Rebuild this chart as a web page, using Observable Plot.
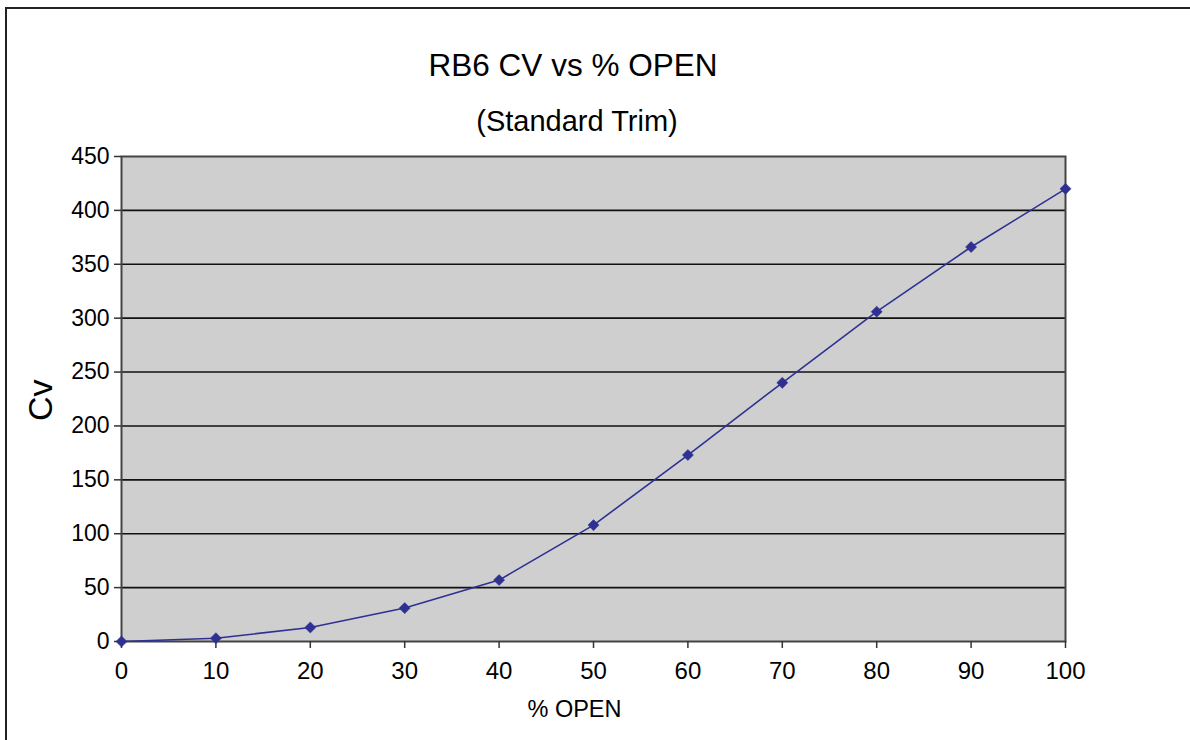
<!DOCTYPE html>
<html>
<head>
<meta charset="utf-8">
<script src="https://cdn.jsdelivr.net/npm/d3@7"></script>
<script src="https://cdn.jsdelivr.net/npm/@observablehq/plot@0.6"></script>
<style>
  html, body { margin: 0; padding: 0; background: #fff; width: 1190px; height: 740px; overflow: hidden; }
  body { position: relative; font-family: "Liberation Sans", Arial, sans-serif; color: #000; }
  #frame { position: absolute; left: 5px; top: 7px; width: 1300px; height: 900px; border: 2.5px solid #222; box-sizing: border-box; }
  .title { position: absolute; transform: translateX(-50%); white-space: nowrap; }
  #title { left: 573px; top: 50px; font-size: 31.5px; line-height: 31.5px; }
  #subtitle { left: 577px; top: 107px; font-size: 29px; line-height: 29px; }
  #chart { position: absolute; left: 0; top: 140px; }
</style>
</head>
<body>
<div id="frame"></div>
<div id="title" class="title">RB6 CV vs % OPEN</div>
<div id="subtitle" class="title">(Standard Trim)</div>
<div id="chart"></div>
<script>
const percentOpen = [0, 10, 20, 30, 40, 50, 60, 70, 80, 90, 100];
const cv = [0, 3, 13, 31, 57, 108, 173, 240, 306, 366, 420];
const xTicks = [0, 10, 20, 30, 40, 50, 60, 70, 80, 90, 100];
const yTicks = [0, 50, 100, 150, 200, 250, 300, 350, 400, 450];
const gridLines = [50, 100, 150, 200, 250, 300, 350, 400];
const xLabel = "% OPEN";
const yLabel = "Cv";

const data = percentOpen.map((p, i) => ({p, cv: cv[i]}));

const chart = Plot.plot({
  width: 1190,
  height: 600,
  marginLeft: 121,
  marginRight: 125,
  marginTop: 16,
  marginBottom: 99,
  style: {fontFamily: "Liberation Sans, Arial, sans-serif", background: "transparent", color: "#000"},
  x: {domain: [0, 100]},
  y: {domain: [0, 450]},
  marks: [
    Plot.frame({fill: "#cfcfcf", stroke: "none"}),
    Plot.ruleY(gridLines, {stroke: "#111", strokeWidth: 1.6}),
    Plot.frame({stroke: "#444", strokeWidth: 2}),
    Plot.axisY({ticks: yTicks, tickSize: 7, tickPadding: 5, fontSize: 23, label: null, strokeWidth: 1.5, stroke: "#333"}),
    Plot.axisX({ticks: xTicks, tickSize: 7, tickPadding: 13, fontSize: 24, label: null, strokeWidth: 1.5, stroke: "#333"}),
    Plot.text([yLabel], {frameAnchor: "left", dx: -80, dy: 22, rotate: -90, fontSize: 34, fill: "#000"}),
    Plot.text([xLabel], {frameAnchor: "bottom", dx: -19, dy: 75, fontSize: 23.5, fill: "#000"}),
    Plot.line(data, {x: "p", y: "cv", stroke: "#2e3192", strokeWidth: 1.6}),
    Plot.dot(data, {x: "p", y: "cv", symbol: "diamond2", r: 5, fill: "#2e3192", stroke: "#2e3192", strokeWidth: 0.5})
  ]
});
document.getElementById("chart").appendChild(chart);
</script>
</body>
</html>
